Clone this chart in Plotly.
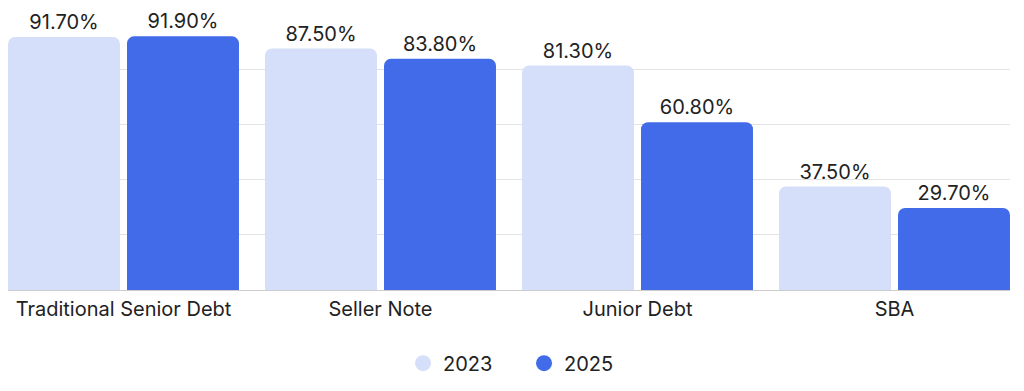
import plotly.graph_objects as go

categories = ["Traditional Senior Debt", "Seller Note", "Junior Debt", "SBA"]
values_2023 = [91.7, 87.5, 81.3, 37.5]
values_2025 = [91.9, 83.8, 60.8, 29.7]
series_names = ["2023", "2025"]
colors = ["#D6DFFA", "#416BE9"]

FONT = "Inter"
TXT = "#222222"
FS = 20

fig = go.Figure()
for name, vals, col in zip(series_names, [values_2023, values_2025], colors):
    fig.add_trace(go.Bar(
        x=categories, y=vals, name=name, marker=dict(color=col, line=dict(width=0)),
        text=[f"{v:.2f}%" for v in vals], textposition="outside",
        textfont=dict(family=FONT, size=FS, color=TXT),
        cliponaxis=False, showlegend=False, hoverinfo="skip",
    ))
    fig.add_trace(go.Scatter(
        x=[None], y=[None], mode="markers", name=name,
        marker=dict(symbol="circle", size=22, color=col), showlegend=True,
    ))

bargap = 0.074
fig.update_layout(
    width=1024, height=391,
    margin=dict(l=8, r=14, t=14, b=101),
    paper_bgcolor="white", plot_bgcolor="white",
    barmode="group", bargap=bargap, bargroupgap=0.059, barcornerradius=7,
    font=dict(family=FONT, color=TXT, size=FS),
    showlegend=True,
    legend=dict(orientation="h", x=0.515, xanchor="center", y=-0.265, yanchor="middle",
                font=dict(family=FONT, size=FS, color=TXT), itemwidth=30,
                entrywidth=76, traceorder="normal"),
    xaxis=dict(range=[-0.4494, 3.4494], showgrid=False,
               showline=True, linecolor="#cccccc", linewidth=1,
               ticks="", ticklabelstandoff=1,
               tickfont=dict(family=FONT, size=FS, color=TXT)),
    yaxis=dict(range=[0, 100], dtick=20, showgrid=True, gridcolor="#e3e3e3",
               gridwidth=1, showticklabels=False, zeroline=False, ticks=""),
)

fig.write_html("out.html")
